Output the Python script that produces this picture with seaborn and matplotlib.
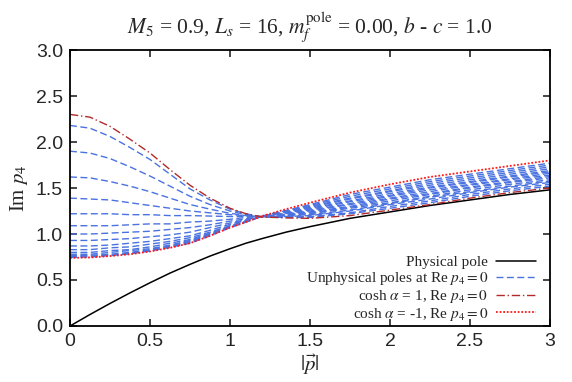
import numpy as np
import pandas as pd
import matplotlib
matplotlib.use("Agg")
import matplotlib.pyplot as plt
import seaborn as sns

p = [0, 0.125, 0.25, 0.375, 0.5, 0.625, 0.75, 0.875, 1.0, 1.1, 1.2,
     1.35, 1.5, 1.75, 2.0, 2.25, 2.5, 2.75, 3.0]

physical = [0, 0.125, 0.245, 0.36, 0.47, 0.575, 0.67, 0.76, 0.84, 0.90, 0.95,
            1.02, 1.08, 1.17, 1.24, 1.31, 1.37, 1.43, 1.48]
cosh_plus = [2.30, 2.27, 2.17, 2.03, 1.88, 1.70, 1.53, 1.39, 1.28, 1.22, 1.185,
             1.175, 1.17, 1.20, 1.26, 1.32, 1.39, 1.45, 1.50]
cosh_minus = [0.74, 0.745, 0.76, 0.78, 0.81, 0.85, 0.90, 0.98, 1.07, 1.13, 1.195,
              1.27, 1.34, 1.45, 1.54, 1.62, 1.68, 1.74, 1.80]

unphysical = [
    [2.18, 2.15, 2.06, 1.94, 1.81, 1.65, 1.49, 1.37, 1.27, 1.22, 1.185,
     1.18, 1.18, 1.22, 1.28, 1.34, 1.41, 1.47, 1.52],
    [1.90, 1.88, 1.82, 1.73, 1.63, 1.52, 1.41, 1.32, 1.25, 1.21, 1.186,
     1.19, 1.19, 1.23, 1.30, 1.36, 1.43, 1.49, 1.54],
    [1.62, 1.61, 1.57, 1.52, 1.46, 1.39, 1.32, 1.27, 1.225, 1.20, 1.187,
     1.19, 1.20, 1.25, 1.32, 1.38, 1.45, 1.51, 1.56],
    [1.39, 1.38, 1.37, 1.34, 1.31, 1.28, 1.25, 1.23, 1.21, 1.20, 1.188,
     1.20, 1.21, 1.26, 1.33, 1.40, 1.46, 1.52, 1.575],
    [1.22, 1.22, 1.22, 1.21, 1.21, 1.20, 1.20, 1.195, 1.19, 1.19, 1.189,
     1.205, 1.22, 1.28, 1.34, 1.41, 1.48, 1.54, 1.59],
    [1.09, 1.09, 1.09, 1.10, 1.11, 1.11, 1.13, 1.14, 1.16, 1.18, 1.190,
     1.21, 1.23, 1.29, 1.36, 1.43, 1.50, 1.56, 1.61],
    [1.00, 1.00, 1.01, 1.02, 1.03, 1.05, 1.07, 1.10, 1.14, 1.165, 1.190,
     1.215, 1.24, 1.30, 1.38, 1.44, 1.51, 1.57, 1.625],
    [0.93, 0.93, 0.94, 0.95, 0.97, 0.99, 1.02, 1.07, 1.12, 1.155, 1.191,
     1.22, 1.25, 1.32, 1.39, 1.46, 1.53, 1.59, 1.64],
    [0.87, 0.87, 0.88, 0.90, 0.92, 0.95, 0.98, 1.04, 1.105, 1.15, 1.191,
     1.225, 1.26, 1.33, 1.41, 1.48, 1.54, 1.60, 1.66],
    [0.83, 0.83, 0.85, 0.86, 0.89, 0.92, 0.96, 1.02, 1.09, 1.14, 1.192,
     1.23, 1.27, 1.35, 1.42, 1.50, 1.56, 1.62, 1.675],
    [0.80, 0.80, 0.82, 0.83, 0.86, 0.90, 0.94, 1.01, 1.085, 1.14, 1.192,
     1.235, 1.28, 1.36, 1.44, 1.51, 1.57, 1.63, 1.69],
    [0.78, 0.78, 0.80, 0.82, 0.84, 0.88, 0.93, 1.00, 1.08, 1.135, 1.193,
     1.24, 1.29, 1.38, 1.46, 1.53, 1.59, 1.65, 1.71],
    [0.765, 0.77, 0.78, 0.80, 0.83, 0.87, 0.92, 0.99, 1.08, 1.135, 1.193,
     1.245, 1.30, 1.39, 1.47, 1.55, 1.61, 1.67, 1.73],
    [0.755, 0.76, 0.77, 0.79, 0.82, 0.86, 0.91, 0.99, 1.07, 1.13, 1.194,
     1.25, 1.31, 1.41, 1.49, 1.57, 1.63, 1.69, 1.75],
    [0.745, 0.75, 0.765, 0.785, 0.815, 0.855, 0.90, 0.98, 1.07, 1.13, 1.194,
     1.255, 1.32, 1.43, 1.51, 1.59, 1.65, 1.71, 1.77],
]

xticks = [0, 0.5, 1, 1.5, 2, 2.5, 3]
xticklabels = ["0", "0.5", "1", "1.5", "2", "2.5", "3"]
yticks = [0, 0.5, 1.0, 1.5, 2.0, 2.5, 3.0]
yticklabels = ["0.0", "0.5", "1.0", "1.5", "2.0", "2.5", "3.0"]

sns.set_style("white")
plt.rcParams["font.family"] = ["Liberation Serif", "DejaVu Serif"]
plt.rcParams["mathtext.fontset"] = "stix"

fig = plt.figure(figsize=(5.72, 3.82), dpi=100)
ax = fig.add_axes([70 / 572, 56 / 382, 480 / 572, 276 / 382])

# long form table for the blue family
rows = []
for i, curve in enumerate(unphysical):
    for x, y in zip(p, curve):
        rows.append({"p": x, "im": y, "k": i})
df = pd.DataFrame(rows)

blue = "#4a72e0"
sns.lineplot(x=p, y=physical, ax=ax, color="black", lw=1.1)
sns.lineplot(data=df, x="p", y="im", units="k", estimator=None, ax=ax,
             color=blue, lw=1.0, legend=False)
for line in ax.get_lines()[1:]:
    line.set_dashes([5, 2.5])
sns.lineplot(x=p, y=cosh_plus, ax=ax, color="#b22a2a", lw=1.0)
ax.get_lines()[-1].set_dashes([6, 2, 1, 2])
sns.lineplot(x=p, y=cosh_minus, ax=ax, color="#ff1a1a", lw=1.3)
ax.get_lines()[-1].set_dashes([1, 1])

lines = ax.get_lines()
handles = [lines[0], lines[1], lines[-2], lines[-1]]
labels = ["Physical pole",
          r"Unphysical poles at Re $p_4 = 0$",
          r"cosh $\alpha$ = 1, Re $p_4 = 0$",
          r"cosh $\alpha$ = -1, Re $p_4 = 0$"]
ax.legend(handles, labels, loc="lower right", bbox_to_anchor=(0.97, 0.012),
          frameon=False, markerfirst=False, fontsize=11, handlelength=2.6,
          handletextpad=0.5, labelspacing=0.05, borderpad=0, borderaxespad=0)

ax.set_xlim(0, 3)
ax.set_ylim(0, 3)
ax.set_xticks(xticks)
ax.set_xticklabels(xticklabels, family="Liberation Sans", fontsize=14)
ax.set_yticks(yticks)
ax.set_yticklabels(yticklabels, family="Liberation Sans", fontsize=14)
ax.tick_params(direction="in", length=5, width=1.2, top=True, right=True,
               bottom=True, left=True, pad=5)
for s in ax.spines.values():
    s.set_linewidth(1.3)
    s.set_color("black")

ax.set_xlabel(r"$|\vec{p}|$", fontsize=15, labelpad=2)
ax.set_ylabel(r"Im $p_4$", fontsize=15, labelpad=4)
ax.set_title(r"$M_5$ = 0.9, $L_s$ = 16, $m_f^{\rm pole}$ = 0.00, $b$ - $c$ = 1.0",
             fontsize=15.5, pad=12)

fig.savefig("out.png", dpi=100)
